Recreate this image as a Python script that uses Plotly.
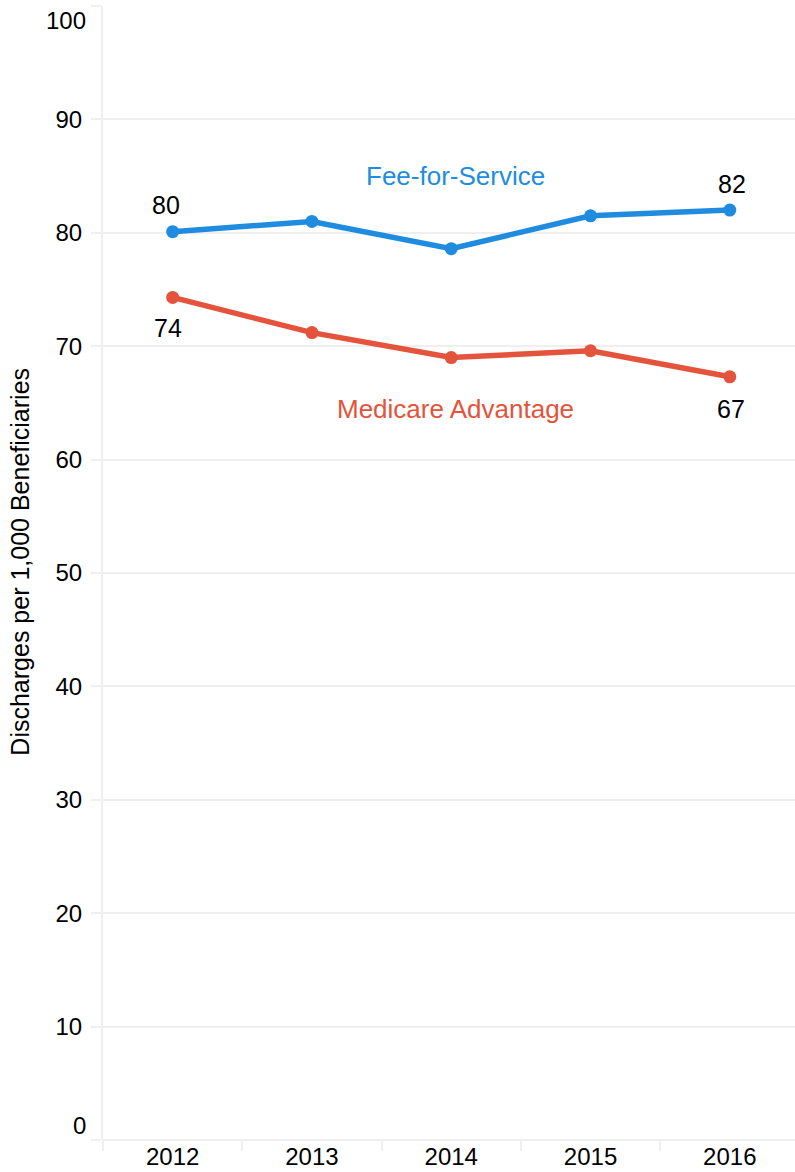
import plotly.graph_objects as go

years = ["2012", "2013", "2014", "2015", "2016"]
ffs = [80.1, 81.0, 78.6, 81.5, 82.0]
ma = [74.3, 71.2, 69.0, 69.6, 67.3]
y_ticks = [0, 10, 20, 30, 40, 50, 60, 70, 80, 90, 100]

BLUE = "#1f8ce0"
RED = "#e4533b"
GRID = "#efefef"
FONT = "Liberation Sans, Arial, Helvetica, sans-serif"

fig = go.Figure()
fig.add_trace(go.Scatter(x=years, y=ffs, mode="lines+markers", name="Fee-for-Service",
                         line=dict(color=BLUE, width=5.5), marker=dict(color=BLUE, size=13),
                         showlegend=False, hoverinfo="x+y"))
fig.add_trace(go.Scatter(x=years, y=ma, mode="lines+markers", name="Medicare Advantage",
                         line=dict(color=RED, width=5.5), marker=dict(color=RED, size=13),
                         showlegend=False, hoverinfo="x+y"))

first, mid, last = 0, 2, len(years) - 1

ann = []
# end-point value labels
ann.append(dict(x=first, y=ffs[first], text=f"{round(ffs[first])}", xshift=-7, yshift=27))
ann.append(dict(x=first, y=ma[first], text=f"{round(ma[first])}", xshift=-5, yshift=-31))
ann.append(dict(x=last, y=ffs[last], text=f"{round(ffs[last])}", xshift=2, yshift=26))
ann.append(dict(x=last, y=ma[last], text=f"{round(ma[last])}", xshift=1, yshift=-32))
for a in ann:
    a.update(xref="x", yref="y", showarrow=False, font=dict(family=FONT, size=25, color="#000"))

# series labels
ann.append(dict(x=mid, y=85.0, xref="x", yref="y", text="Fee-for-Service", showarrow=False,
                xshift=4, font=dict(family=FONT, size=26, color=BLUE)))
ann.append(dict(x=mid, y=64.5, xref="x", yref="y", text="Medicare Advantage", showarrow=False,
                xshift=4, font=dict(family=FONT, size=26, color=RED)))

# flush end tick labels
ann.append(dict(x=0, y=y_ticks[-1], xref="paper", yref="y", text=str(y_ticks[-1]), showarrow=False,
                xanchor="right", xshift=-15, yshift=-14, font=dict(family=FONT, size=24, color="#000")))
ann.append(dict(x=0, y=y_ticks[0], xref="paper", yref="y", text=str(y_ticks[0]), showarrow=False,
                xanchor="right", xshift=-15, yshift=15, font=dict(family=FONT, size=24, color="#000")))

# y-axis title
ann.append(dict(x=0, y=0.51, xref="paper", yref="paper", text="Discharges per 1,000 Beneficiaries",
                showarrow=False, textangle=-90, xanchor="center", yanchor="middle", xshift=-83,
                font=dict(family=FONT, size=25, color="#000")))

tick_text = ["" if v in (y_ticks[0], y_ticks[-1]) else str(v) for v in y_ticks]

fig.update_layout(
    width=795, height=1172,
    margin=dict(l=103, r=0, t=6, b=32),
    plot_bgcolor="white", paper_bgcolor="white",
    annotations=ann,
    font=dict(family=FONT, color="#000"),
    xaxis=dict(type="category", categoryorder="array", categoryarray=years,
               range=[-0.5, 4.468], tickson="boundaries", ticks="outside", ticklen=10,
               tickcolor=GRID, tickwidth=2, showgrid=False, zeroline=False, showline=False,
               tickfont=dict(family=FONT, size=24, color="#000")),
    yaxis=dict(range=[0, 100], tickvals=y_ticks, ticktext=tick_text, ticks="outside", ticklen=10,
               tickcolor=GRID, tickwidth=2, showgrid=True, gridcolor=GRID, gridwidth=2,
               zeroline=True, zerolinecolor=GRID, zerolinewidth=2,
               showline=True, linecolor=GRID, linewidth=2, ticklabelstandoff=4,
               tickfont=dict(family=FONT, size=24, color="#000")),
)

fig.write_html("out.html")
